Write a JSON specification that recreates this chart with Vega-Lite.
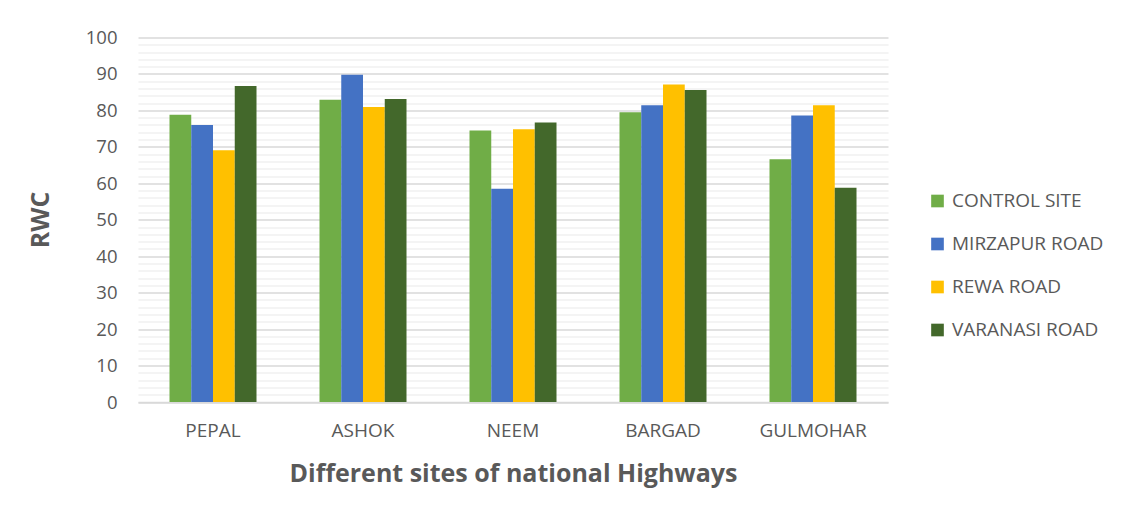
{
  "$schema": "https://vega.github.io/schema/vega-lite/v6.json",
  "autosize": "none",
  "width": 750,
  "height": 364.5,
  "padding": {"left": 138, "top": 37.5, "right": 233, "bottom": 112},
  "background": "white",
  "data": {
    "values": [
      {"site": "PEPAL", "series": "CONTROL SITE", "rwc": 78.8},
      {"site": "PEPAL", "series": "MIRZAPUR ROAD", "rwc": 76.0},
      {"site": "PEPAL", "series": "REWA ROAD", "rwc": 69.1},
      {"site": "PEPAL", "series": "VARANASI ROAD", "rwc": 86.7},
      {"site": "ASHOK", "series": "CONTROL SITE", "rwc": 82.9},
      {"site": "ASHOK", "series": "MIRZAPUR ROAD", "rwc": 89.8},
      {"site": "ASHOK", "series": "REWA ROAD", "rwc": 80.9},
      {"site": "ASHOK", "series": "VARANASI ROAD", "rwc": 83.1},
      {"site": "NEEM", "series": "CONTROL SITE", "rwc": 74.5},
      {"site": "NEEM", "series": "MIRZAPUR ROAD", "rwc": 58.5},
      {"site": "NEEM", "series": "REWA ROAD", "rwc": 74.8},
      {"site": "NEEM", "series": "VARANASI ROAD", "rwc": 76.7},
      {"site": "BARGAD", "series": "CONTROL SITE", "rwc": 79.5},
      {"site": "BARGAD", "series": "MIRZAPUR ROAD", "rwc": 81.4},
      {"site": "BARGAD", "series": "REWA ROAD", "rwc": 87.1},
      {"site": "BARGAD", "series": "VARANASI ROAD", "rwc": 85.6},
      {"site": "GULMOHAR", "series": "CONTROL SITE", "rwc": 66.6},
      {"site": "GULMOHAR", "series": "MIRZAPUR ROAD", "rwc": 78.6},
      {"site": "GULMOHAR", "series": "REWA ROAD", "rwc": 81.4},
      {"site": "GULMOHAR", "series": "VARANASI ROAD", "rwc": 58.8}
    ]
  },
  "mark": {"type": "bar"},
  "encoding": {
    "x": {
      "field": "site",
      "type": "nominal",
      "sort": ["PEPAL", "ASHOK", "NEEM", "BARGAD", "GULMOHAR"],
      "scale": {"paddingInner": 0.42, "paddingOuter": 0.21},
      "axis": {
        "title": "Different sites of national Highways",
        "titleFont": "Open Sans",
        "titleFontSize": 25,
        "titleFontWeight": "bold",
        "titleColor": "#595959",
        "titleX": 375,
        "titleY": 71,
        "titleBaseline": "middle",
        "titleAlign": "center",
        "labelFont": "Open Sans",
        "labelFontSize": 19,
        "labelColor": "#595959",
        "labelAngle": 0,
        "labelPadding": 19,
        "ticks": false,
        "domainColor": "#d9d9d9",
        "domainWidth": 1.5,
        "grid": false
      }
    },
    "xOffset": {
      "field": "series",
      "type": "nominal",
      "sort": ["CONTROL SITE", "MIRZAPUR ROAD", "REWA ROAD", "VARANASI ROAD"],
      "scale": {"paddingInner": 0, "paddingOuter": 0}
    },
    "y": {
      "field": "rwc",
      "type": "quantitative",
      "scale": {"domain": [0, 100], "nice": false},
      "axis": {
        "title": "RWC",
        "titleFont": "Open Sans",
        "titleFontSize": 25,
        "titleFontWeight": "bold",
        "titleColor": "#595959",
        "titleAngle": -90,
        "titleX": -98,
        "titleY": 182,
        "titleAlign": "center",
        "titleBaseline": "middle",
        "values": [0, 2, 4, 6, 8, 10, 12, 14, 16, 18, 20, 22, 24, 26, 28, 30, 32, 34, 36, 38, 40, 42, 44, 46, 48, 50, 52, 54, 56, 58, 60, 62, 64, 66, 68, 70, 72, 74, 76, 78, 80, 82, 84, 86, 88, 90, 92, 94, 96, 98, 100],
        "labelExpr": "datum.value % 10 === 0 ? datum.label : ''",
        "labelFont": "Open Sans",
        "labelFontSize": 18.5,
        "labelColor": "#595959",
        "labelPadding": 21,
        "ticks": false,
        "domain": false,
        "grid": true,
        "gridColor": {"condition": {"test": "datum.value % 10 === 0", "value": "#d9d9d9"}, "value": "#f0f0f0"},
        "gridWidth": 1.5
      }
    },
    "color": {
      "field": "series",
      "type": "nominal",
      "sort": ["CONTROL SITE", "MIRZAPUR ROAD", "REWA ROAD", "VARANASI ROAD"],
      "scale": {
        "domain": ["CONTROL SITE", "MIRZAPUR ROAD", "REWA ROAD", "VARANASI ROAD"],
        "range": ["#70ad47", "#4472c4", "#ffc000", "#43682b"]
      },
      "legend": {
        "title": null,
        "orient": "none",
        "legendX": 790,
        "legendY": 154,
        "symbolType": "square",
        "symbolSize": 160,
        "symbolStrokeWidth": 0,
        "labelFont": "Open Sans",
        "labelFontSize": 19,
        "labelColor": "#595959",
        "labelOffset": 5,
        "rowPadding": 23
      }
    }
  },
  "config": {"view": {"stroke": null}}
}
